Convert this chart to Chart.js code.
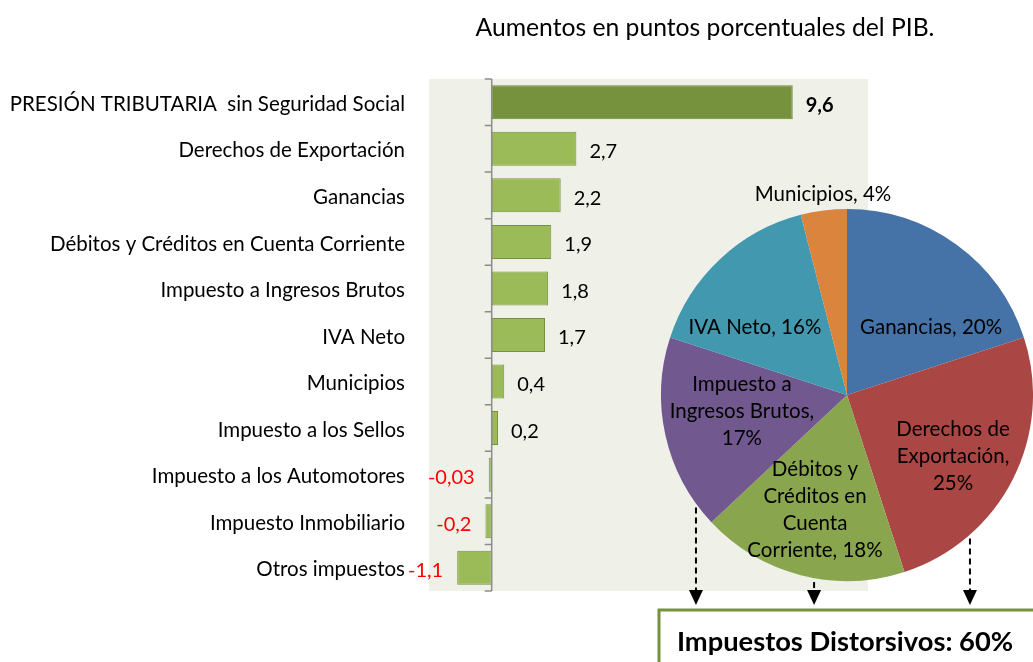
<!DOCTYPE html>
<html><head><meta charset="utf-8">
<script src="https://cdn.jsdelivr.net/npm/chart.js@4/dist/chart.umd.min.js"></script>
<style>
html,body{margin:0;padding:0;background:#fff;overflow:hidden}
#wrap{position:relative;width:1033px;height:662px}
canvas{position:absolute;left:0;top:0}
</style></head><body>
<div id="wrap"><canvas id="bar" width="1033" height="662"></canvas><canvas id="pie" width="1033" height="662"></canvas></div>
<script>
const chartTitle = 'Aumentos en puntos porcentuales del PIB.';
const categories = ['PRESIÓN TRIBUTARIA  sin Seguridad Social','Derechos de Exportación','Ganancias','Débitos y Créditos en Cuenta Corriente','Impuesto a Ingresos Brutos','IVA Neto','Municipios','Impuesto a los Sellos','Impuesto a los Automotores','Impuesto Inmobiliario','Otros impuestos'];
const values = [9.6, 2.7, 2.2, 1.9, 1.8, 1.7, 0.4, 0.2, -0.03, -0.2, -1.1];
const valueLabels = ['9,6','2,7','2,2','1,9','1,8','1,7','0,4','0,2','-0,03','-0,2','-1,1'];
const xTicks = {min: -2, max: 12};

const pieNames = ['Ganancias','Derechos de Exportación','Débitos y Créditos en Cuenta Corriente','Impuesto a Ingresos Brutos','IVA Neto','Municipios'];
const pieShares = [20, 25, 18, 17, 16, 4];
const pieLabelLines = [['Ganancias, 20%'],['Derechos de','Exportación,','25%'],['Débitos y','Créditos en','Cuenta','Corriente, 18%'],['Impuesto a','Ingresos Brutos,','17%'],['IVA Neto, 16%'],['Municipios, 4%']];
const pieColors = ['#4572A7','#AA4643','#89A54E','#71588F','#4198AF','#DB843D'];
const boxText = 'Impuestos Distorsivos: 60%';

const FONT = 'Lato, "Open Sans", sans-serif';

const bgPlugin = {id:'bg', beforeDraw(c){const a=c.chartArea, x=c.ctx; x.save(); x.fillStyle='#EFF1E9'; x.fillRect(a.left,a.top,a.right-a.left,a.bottom-a.top); x.restore();}};
const axisPlugin = {id:'axis', afterDatasetsDraw(c){
  const x=c.ctx, sx=c.scales.x, a=c.chartArea; const x0=sx.getPixelForValue(0);
  x.save(); x.strokeStyle='#8C8C8C'; x.lineWidth=1.5;
  x.beginPath(); x.moveTo(x0,a.top); x.lineTo(x0,a.bottom); x.stroke();
  const n=categories.length, h=(a.bottom-a.top)/n;
  x.beginPath(); for(let i=0;i<=n;i++){const y=a.top+i*h; x.moveTo(x0-7,y); x.lineTo(x0,y);} x.stroke();
  x.restore();
}};
const labelPlugin = {id:'vlabels', afterDatasetsDraw(c){
  const x=c.ctx, meta=c.getDatasetMeta(0), x0=c.scales.x.getPixelForValue(0);
  x.save(); x.textBaseline='middle';
  meta.data.forEach((el,i)=>{
    const v=values[i];
    x.font=(i===0?'bold ':'')+'20px '+FONT;
    if(v>=0){x.fillStyle='#000'; x.textAlign='left'; x.fillText(valueLabels[i], el.x+13, el.y+3);}
    else {x.fillStyle='#FF0000'; x.textAlign='right'; x.fillText(valueLabels[i], Math.min(el.x, x0-2)-14, el.y+3);}
  });
  x.fillStyle='#000'; x.textAlign='center'; x.font='24.7px '+FONT; x.fillText(chartTitle, 705, 28);
  x.restore();
}};

new Chart(document.getElementById('bar'), {
  type:'bar',
  data:{labels:categories, datasets:[{data:values,
    backgroundColor: values.map((v,i)=> i===0?'#76923C':'#9BBB59'),
    borderColor: values.map((v,i)=> i===0?'#6E8A37':'#76923C'),
    borderWidth:1, borderSkipped:false, minBarLength:3, categoryPercentage:0.73, barPercentage:1}]},
  options:{indexAxis:'y', responsive:false, animation:false,
    layout:{padding:{left:0, top:79, right:165, bottom:71}},
    plugins:{legend:{display:false}, tooltip:{enabled:false}},
    scales:{
      x:{display:false, min:xTicks.min, max:xTicks.max},
      y:{grid:{display:false}, border:{display:false},
         ticks:{color:'#000', font:{family:FONT, size:20.5}, padding:16, labelOffset:2},
         afterFit(s){s.width=429;}}
    }},
  plugins:[bgPlugin, axisPlugin, labelPlugin]
});

const labelOffsets = [[0.452,-0.366],[0.57,0.328],[-0.172,0.618],[-0.565,0.086],[-0.495,-0.366],[-0.129,-1.08]];
const pieLabelPlugin = {id:'plabels', afterDatasetsDraw(c){
  const x=c.ctx, arc=c.getDatasetMeta(0).data[0]; const cx=arc.x, cy=arc.y, r=arc.outerRadius;
  x.save(); x.fillStyle='#000'; x.textAlign='center'; x.textBaseline='middle'; x.font='20.5px '+FONT;
  pieLabelLines.forEach((lines,i)=>{
    const px=cx+labelOffsets[i][0]*r, py=cy+labelOffsets[i][1]*r, lh=27;
    lines.forEach((t,j)=>x.fillText(t, px, py+(j-(lines.length-1)/2)*lh));
  });
  // arrows
  const tipY=605;
  [-0.812,-0.177,0.661].forEach(f=>{
    const dx=f*r, ax=cx+dx, y0=cy+Math.sqrt(r*r-dx*dx)+4;
    x.strokeStyle='#000'; x.lineWidth=2; x.setLineDash([6,4]);
    x.beginPath(); x.moveTo(ax,y0); x.lineTo(ax,tipY-13); x.stroke(); x.setLineDash([]);
    x.fillStyle='#000'; x.beginPath(); x.moveTo(ax-7,tipY-15); x.lineTo(ax+7,tipY-15); x.lineTo(ax,tipY); x.closePath(); x.fill();
  });
  // box
  x.fillStyle='#fff'; x.fillRect(659,610,420,100);
  x.strokeStyle='#76923C'; x.lineWidth=3; x.strokeRect(659,610,420,100);
  x.fillStyle='#000'; x.font='bold 27.3px '+FONT; x.fillText(boxText, 845, 642);
  x.restore();
}};

new Chart(document.getElementById('pie'), {
  type:'pie',
  data:{labels:pieNames, datasets:[{data:pieShares, backgroundColor:pieColors, borderWidth:0}]},
  options:{responsive:false, animation:false,
    layout:{padding:{left:661, right:0, top:209, bottom:81}},
    plugins:{legend:{display:false}, tooltip:{enabled:false}}},
  plugins:[pieLabelPlugin]
});
</script></body></html>
